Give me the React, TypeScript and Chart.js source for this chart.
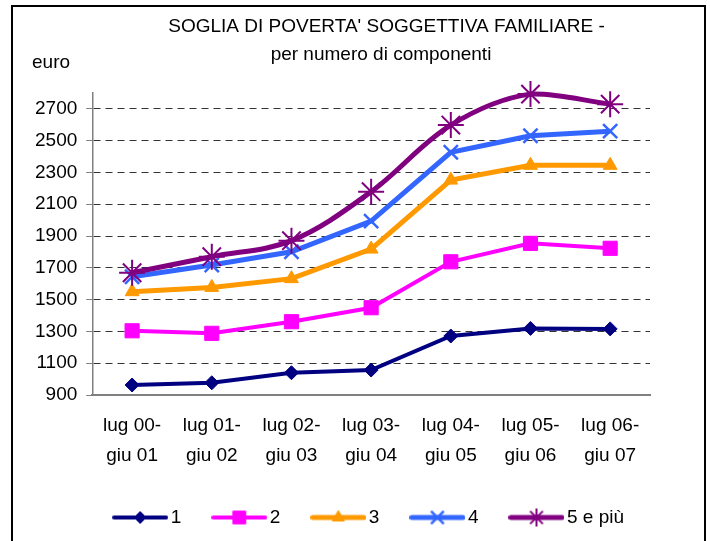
import React, { useEffect, useRef } from "react";
import { Chart, registerables } from "chart.js";
import { drawPoint } from "chart.js/helpers";

Chart.register(...registerables);

// ---- data ----
const periods: string[][] = [
  ["lug 00-", "giu 01"],
  ["lug 01-", "giu 02"],
  ["lug 02-", "giu 03"],
  ["lug 03-", "giu 04"],
  ["lug 04-", "giu 05"],
  ["lug 05-", "giu 06"],
  ["lug 06-", "giu 07"],
];
const seriesNames = ["1", "2", "3", "4", "5 e più"];
const comp1 = [963, 977, 1040, 1057, 1271, 1319, 1316];
const comp2 = [1304, 1288, 1361, 1449, 1738, 1854, 1823];
const comp3 = [1550, 1577, 1632, 1818, 2252, 2345, 2345];
const comp4 = [1644, 1718, 1801, 1994, 2427, 2531, 2560];
const comp5 = [1669, 1770, 1871, 2179, 2598, 2793, 2730];
const yTicks = [900, 1100, 1300, 1500, 1700, 1900, 2100, 2300, 2500, 2700];
const titleLines = ["SOGLIA DI POVERTA' SOGGETTIVA FAMILIARE -", "per numero di componenti"];
const unitLabel = "euro";

const FONT = "'Liberation Sans', Arial, Helvetica, sans-serif";

const seriesValues = [comp1, comp2, comp3, comp4, comp5];
const styles = [
  { color: "#000080", pointStyle: "rectRot", radius: 7, line: 4, pbw: 1, tension: 0, lRadius: 6, lbw: 1 },
  { color: "#FF00FF", pointStyle: "rect", radius: 10, line: 4, pbw: 1, tension: 0, lRadius: 9, lbw: 1 },
  { color: "#FF9900", pointStyle: "triangle", radius: 8, line: 5, pbw: 1, tension: 0, lRadius: 7, lbw: 1 },
  { color: "#3366FF", pointStyle: "crossRot", radius: 10, line: 5, pbw: 2.5, tension: 0, lRadius: 9, lbw: 2.5 },
  { color: "#800080", pointStyle: "star", radius: 13, line: 5, pbw: 2, tension: 0.35, lRadius: 9, lbw: 2 },
];

function makeLegendImage(s: any): HTMLCanvasElement {
  const c = document.createElement("canvas");
  c.width = 56;
  c.height = 26;
  const ctx = c.getContext("2d")!;
  ctx.strokeStyle = s.color;
  ctx.fillStyle = s.color;
  ctx.lineCap = "round";
  ctx.lineWidth = s.line;
  ctx.beginPath();
  ctx.moveTo(s.line / 2, 13);
  ctx.lineTo(56 - s.line / 2, 13);
  ctx.stroke();
  ctx.lineCap = "butt";
  ctx.lineWidth = s.lbw;
  drawPoint(ctx, { pointStyle: s.pointStyle, radius: s.lRadius, rotation: 0, borderWidth: s.lbw } as any, 28, 13);
  return c;
}

const textPlugin = {
  id: "textPlugin",
  afterDraw(chart: any) {
    const ctx = chart.ctx;
    ctx.save();
    ctx.fillStyle = "#000";
    ctx.font = `19px ${FONT}`;
    ctx.textBaseline = "alphabetic";
    ctx.textAlign = "center";
    ctx.fillText(titleLines[0], 386.5, 32);
    ctx.fillText(titleLines[1], 381, 60);
    ctx.textAlign = "left";
    ctx.fillText(unitLabel, 32, 68);
    ctx.restore();
  },
};

export default function App() {
  const ref = useRef<HTMLCanvasElement>(null);
  useEffect(() => {
    const legendImages = styles.map(makeLegendImage);
    const datasets = seriesValues.map((vals, i) => {
      const s = styles[i];
      return {
        label: seriesNames[i],
        data: vals,
        yAxisID: "y",
        borderColor: s.color,
        backgroundColor: s.color,
        borderWidth: s.line,
        pointStyle: s.pointStyle,
        pointRadius: s.radius,
        pointHoverRadius: s.radius,
        pointBackgroundColor: s.color,
        pointBorderColor: s.color,
        pointBorderWidth: s.pbw,
        tension: s.tension,
        fill: false,
        clip: false,
        order: 5 - i,
      };
    });
    const chart = new Chart(ref.current!, {
      type: "line",
      data: { labels: periods, datasets: datasets as any },
      plugins: [textPlugin],
      options: {
        responsive: false,
        animation: false,
        devicePixelRatio: 1,
        layout: { padding: { top: 93, left: 26, right: 49, bottom: 4 } },
        plugins: {
          title: { display: false },
          tooltip: { enabled: false },
          legend: {
            position: "bottom",
            fullSize: true,
            align: "end",
            labels: {
              usePointStyle: true,
              pointStyleWidth: 42,
              padding: 37,
              color: "#000",
              font: { size: 19, family: FONT },
              generateLabels: () =>
                seriesNames.map((n, i) => ({
                  text: n,
                  pointStyle: legendImages[i] as any,
                  fillStyle: styles[i].color,
                  strokeStyle: styles[i].color,
                  lineWidth: 0,
                  hidden: false,
                  datasetIndex: i,
                })),
            },
          },
        },
        scales: {
          x: {
            offset: true,
            grid: { display: false, drawTicks: false },
            border: { color: "#808080", width: 2 },
            ticks: {
              color: "#000",
              font: { size: 19, family: FONT, lineHeight: 30 / 19 },
              padding: 16,
              maxRotation: 0,
              autoSkip: false,
            },
            afterFit: (s: any) => {
              s.height = 76;
            },
          },
          y: {
            min: 900,
            max: 2800,
            afterBuildTicks: (axis: any) => {
              axis.ticks = yTicks.map((v) => ({ value: v }));
            },
            grid: {
              color: (c: any) => (c.tick && c.tick.value === 900 ? "rgba(0,0,0,0)" : "#333333"),
              lineWidth: 1,
              tickLength: 6,
              tickColor: "#808080",
              tickBorderDash: [],
              borderDash: [7, 5],
            } as any,
            border: { color: "#808080", width: 1.5, dash: [7, 5] },
            ticks: {
              color: "#000",
              font: { size: 19, family: FONT },
              padding: 9,
              autoSkip: false,
              callback: (v: any) => String(v),
            },
          },
          spacer: {
            type: "linear",
            position: "right",
            display: true,
            grid: { display: false, drawTicks: false },
            border: { display: false },
            ticks: { display: false },
            afterFit: (s: any) => {
              s.width = 11;
            },
          },
        },
      },
    });
    return () => chart.destroy();
  }, []);

  return (
    <div style={{ position: "absolute", left: 0, top: 0, width: 710, height: 541, overflow: "hidden", background: "#fff" }}>
      <div style={{ position: "absolute", left: 11, top: 5, width: 691, height: 600, border: "2px solid #000" }} />
      <canvas ref={ref} width={710} height={541} style={{ position: "absolute", left: 0, top: 0, width: 710, height: 541 }} />
    </div>
  );
}
